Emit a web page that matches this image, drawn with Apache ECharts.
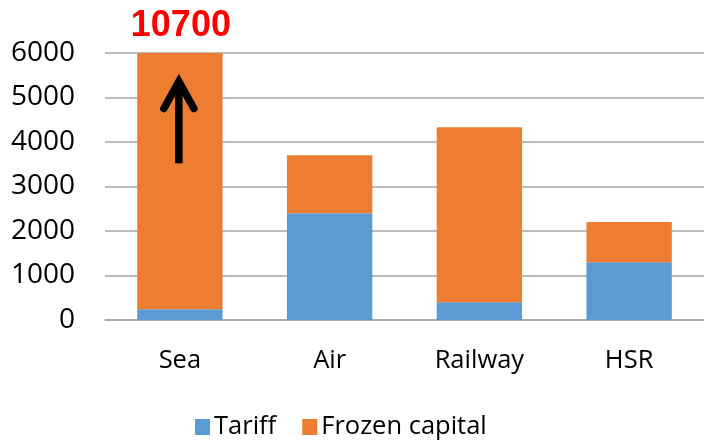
<!DOCTYPE html>
<html>
<head>
<meta charset="utf-8">
<script src="https://cdn.jsdelivr.net/npm/echarts@6/dist/echarts.min.js"></script>
<style>
html,body{margin:0;padding:0;background:#fff;}
#c{width:704px;height:441px;}
</style>
</head>
<body>
<div id="c"></div>
<script>
const categories = ['Sea', 'Air', 'Railway', 'HSR'];
const tariff = [240, 2400, 400, 1300];
const frozenCapital = [10460, 1300, 3930, 900];
const seaTotalLabel = '10700';
const yTicks = [0, 1000, 2000, 3000, 4000, 5000, 6000];
const arrowRange = [3520, 5450]; // arrow from/to on the Sea bar (value axis)

const FONT = 'Open Sans';
const chart = echarts.init(document.getElementById('c'), null, {renderer: 'canvas'});

const option = {
  animation: false,
  backgroundColor: '#ffffff',
  grid: {left: 105, width: 604, top: 53, height: 267, containLabel: false},
  legend: {
    data: ['Tariff', 'Frozen capital'],
    left: 190,
    top: 409,
    itemWidth: 15,
    itemHeight: 16,
    itemGap: 26,
    icon: 'rect',
    textStyle: {fontFamily: FONT, fontSize: 25.5, color: '#000', padding: [0, 0, 0, -1]}
  },
  xAxis: {
    type: 'category',
    data: categories,
    axisLine: {show: true, lineStyle: {color: '#a6a6a6', width: 1.5}},
    axisTick: {show: false},
    axisLabel: {fontFamily: FONT, fontSize: 25.5, color: '#000', margin: 28}
  },
  yAxis: {
    type: 'value',
    min: yTicks[0],
    max: yTicks[yTicks.length - 1],
    interval: 1000,
    axisLine: {show: false},
    axisTick: {show: false},
    splitLine: {lineStyle: {color: '#a6a6a6', width: 1.5}},
    axisLabel: {fontFamily: FONT, fontSize: 28, color: '#000', margin: 30,
      formatter: function (v) { return String(v); }}
  },
  series: [
    {
      name: 'Tariff', type: 'bar', stack: 'total', barWidth: '57%',
      itemStyle: {color: '#5B9BD5'}, data: tariff, clip: true
    },
    {
      name: 'Frozen capital', type: 'bar', stack: 'total', barWidth: '57%',
      itemStyle: {color: '#ED7D31'}, data: frozenCapital, clip: true
    }
  ]
};
chart.setOption(option);

// annotations on the Sea bar
const tip = chart.convertToPixel({gridIndex: 0}, [categories[0], arrowRange[1]]);
const base = chart.convertToPixel({gridIndex: 0}, [categories[0], arrowRange[0]]);
const top6000 = chart.convertToPixel({gridIndex: 0}, [categories[0], yTicks[yTicks.length - 1]]);
const x = tip[0] - 1;
chart.setOption({
  graphic: [
    {
      type: 'line', z: 100,
      shape: {x1: x, y1: base[1], x2: x, y2: tip[1] + 4},
      style: {stroke: '#000', lineWidth: 7.5, lineCap: 'butt'}
    },
    {
      type: 'polyline', z: 100,
      shape: {points: [[x - 15, tip[1] + 31], [x, tip[1] + 4], [x + 15, tip[1] + 31]]},
      style: {stroke: '#000', fill: null, lineWidth: 7.5, lineCap: 'round', lineJoin: 'miter'}
    },
    {
      type: 'text', z: 100,
      x: tip[0] + 1, y: top6000[1] - 9,
      style: {
        text: seaTotalLabel, fill: '#ff0000',
        font: 'bold 36px "Liberation Sans", Arial, sans-serif',
        align: 'center', verticalAlign: 'bottom'
      }
    }
  ]
});
</script>
</body>
</html>
